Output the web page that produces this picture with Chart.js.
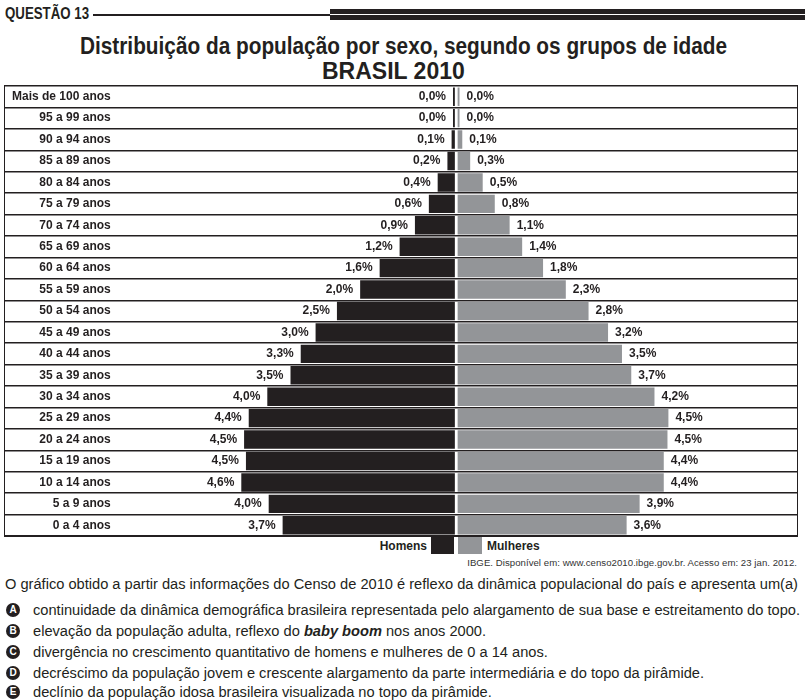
<!DOCTYPE html>
<html><head><meta charset="utf-8">
<script src="https://cdn.jsdelivr.net/npm/chart.js@4.4.0/dist/chart.umd.min.js"></script>
<style>
body{margin:0;width:810px;height:700px;background:#fff;position:relative;overflow:hidden;font-family:"Liberation Sans",Arial,sans-serif;color:#231f20;}
.abs{position:absolute;white-space:nowrap;}
#q{left:5px;top:5px;font-weight:bold;font-size:16px;line-height:18px;}
#thin{left:93px;top:14px;width:237px;height:2px;background:#231f20;}
#thick1{left:330px;top:9px;width:475px;height:4.5px;background:#231f20;}
#thick2{left:330px;top:15px;width:475px;height:4.5px;background:#231f20;}
#t1{left:80px;top:33px;font-weight:bold;font-size:23px;line-height:26px;}
#t2{left:322px;top:58px;font-weight:bold;font-size:23px;line-height:26px;}
#box{left:4px;top:85px;width:792px;height:450px;border:1.5px solid #231f20;}
#box canvas{display:block;}
#legH{top:538px;left:330px;width:97px;text-align:right;font-weight:bold;font-size:12px;line-height:16px;}
#swM{left:431px;top:537px;width:23px;height:17px;background:#231f20;}
#swW{left:458px;top:537px;width:24px;height:17px;background:#939598;}
#legW{top:538px;left:487px;font-weight:bold;font-size:12px;line-height:16px;}
#src{top:556px;right:13px;font-size:9.6px;letter-spacing:0.05px;line-height:13px;color:#333;}
.txt{font-size:15.5px;line-height:18px;}
.circ{position:absolute;left:6px;width:14px;height:14px;border-radius:50%;background:#231f20;color:#fff;font:bold 10px "Liberation Sans",Arial,sans-serif;text-align:center;line-height:14px;}
</style></head>
<body>
<div id="q" class="abs">QUESTÃO 13</div>
<div id="thin" class="abs"></div>
<div id="thick1" class="abs"></div>
<div id="thick2" class="abs"></div>
<div id="t1" class="abs">Distribuição da população por sexo, segundo os grupos de idade</div>
<div id="t2" class="abs">BRASIL 2010</div>
<div id="box" class="abs"><canvas id="c" width="792" height="450"></canvas></div>
<div id="legH" class="abs">Homens</div>
<div id="swM" class="abs"></div>
<div id="swW" class="abs"></div>
<div id="legW" class="abs">Mulheres</div>
<div id="src" class="abs">IBGE. Disponível em: www.censo2010.ibge.gov.br. Acesso em: 23 jan. 2012.</div>
<div class="abs txt para" style="left:5px;top:575px;">O gráfico obtido a partir das informações do Censo de 2010 é reflexo da dinâmica populacional do país e apresenta um(a)</div>
<div class="circ" style="top:603px;">A</div>
<div id="optA" class="abs txt para" style="left:33px;top:601px;">continuidade da dinâmica demográfica brasileira representada pelo alargamento de sua base e estreitamento do topo.</div>
<div class="circ" style="top:624px;">B</div>
<div class="abs txt para" style="left:33px;top:622px;">elevação da população adulta, reflexo do <b><i>baby boom</i></b> nos anos 2000.</div>
<div class="circ" style="top:645px;">C</div>
<div class="abs txt para" style="left:33px;top:643px;">divergência no crescimento quantitativo de homens e mulheres de 0 a 14 anos.</div>
<div class="circ" style="top:666px;">D</div>
<div class="abs txt para" style="left:33px;top:664px;">decréscimo da população jovem e crescente alargamento da parte intermediária e do topo da pirâmide.</div>
<div class="circ" style="top:685px;">E</div>
<div class="abs txt para" style="left:33px;top:683px;">declínio da população idosa brasileira visualizada no topo da pirâmide.</div>
<script>
const ageGroups = ["Mais de 100 anos","95 a 99 anos","90 a 94 anos","85 a 89 anos","80 a 84 anos","75 a 79 anos","70 a 74 anos","65 a 69 anos","60 a 64 anos","55 a 59 anos","50 a 54 anos","45 a 49 anos","40 a 44 anos","35 a 39 anos","30 a 34 anos","25 a 29 anos","20 a 24 anos","15 a 19 anos","10 a 14 anos","5 a 9 anos","0 a 4 anos"];
const homens   = [0.04,0.04,0.07,0.16,0.37,0.56,0.86,1.19,1.62,2.04,2.54,3.00,3.32,3.54,4.04,4.44,4.54,4.50,4.60,4.01,3.71];
const mulheres = [0.04,0.04,0.10,0.27,0.54,0.80,1.12,1.39,1.84,2.33,2.82,3.24,3.54,3.74,4.24,4.54,4.52,4.44,4.44,3.92,3.64];

// condensed look: scale text horizontally to the reference widths
function squeeze(el, f) { el.style.transformOrigin = '0 0'; el.style.transform = 'scaleX(' + f + ')'; }
function widthOf(el) { return el.getBoundingClientRect().width; }
const elQ = document.getElementById('q'), elT1 = document.getElementById('t1');
squeeze(elQ, 84 / widthOf(elQ));
squeeze(elT1, 647 / widthOf(elT1));
const fPara = 767 / widthOf(document.getElementById('optA'));
document.querySelectorAll('.para').forEach(el => squeeze(el, fPara));

const fmt = v => v.toFixed(1).replace('.', ',') + '%';
const INK = '#231f20', GREY = '#939598';

const valueLabels = {
  id: 'valueLabels',
  afterDatasetsDraw(chart) {
    const ctx = chart.ctx;
    ctx.save();
    ctx.font = 'bold 12px "Liberation Sans", Arial, sans-serif';
    ctx.fillStyle = INK;
    ctx.textBaseline = 'middle';
    chart.data.datasets.forEach((ds, di) => {
      chart.getDatasetMeta(di).data.forEach((bar, i) => {
        const t = fmt(ds.data[i]);
        if (di === 0) { ctx.textAlign = 'right'; ctx.fillText(t, bar.x - 7, bar.y); }
        else { ctx.textAlign = 'left'; ctx.fillText(t, bar.x + 7, bar.y); }
      });
    });
    ctx.restore();
  }
};

new Chart(document.getElementById('c'), {
  type: 'bar',
  data: {
    labels: ageGroups,
    datasets: [
      { label: 'Homens', data: homens, backgroundColor: INK, xAxisID: 'xM', grouped: false },
      { label: 'Mulheres', data: mulheres, backgroundColor: GREY, xAxisID: 'xW', grouped: false }
    ]
  },
  options: {
    indexAxis: 'y',
    responsive: false,
    animation: false,
    devicePixelRatio: 1,
    layout: { padding: 0 },
    barPercentage: 0.86,
    categoryPercentage: 1.0,
    plugins: { legend: { display: false }, tooltip: { enabled: false } },
    scales: {
      xM: { type: 'linear', position: 'bottom', stack: 'pyr', stackWeight: 9.72, reverse: true, min: -0.03, max: 9.69, display: false, offset: false },
      xW: { type: 'linear', position: 'bottom', stack: 'pyr', stackWeight: 7.34, min: -0.03, max: 7.31, display: false, offset: false },
      y: {
        position: 'left',
        afterFit(s) { s.width = 0; s.paddingTop = 0; s.paddingBottom = 0; },
        border: { display: false },
        grid: { color: INK, lineWidth: 1.5, drawTicks: false, offset: true },
        ticks: { mirror: true, crossAlign: 'far', padding: 7, color: INK, font: { family: '"Liberation Sans", Arial, sans-serif', weight: 'bold', size: 12 } }
      }
    }
  },
  plugins: [valueLabels]
});
</script>
</body></html>
